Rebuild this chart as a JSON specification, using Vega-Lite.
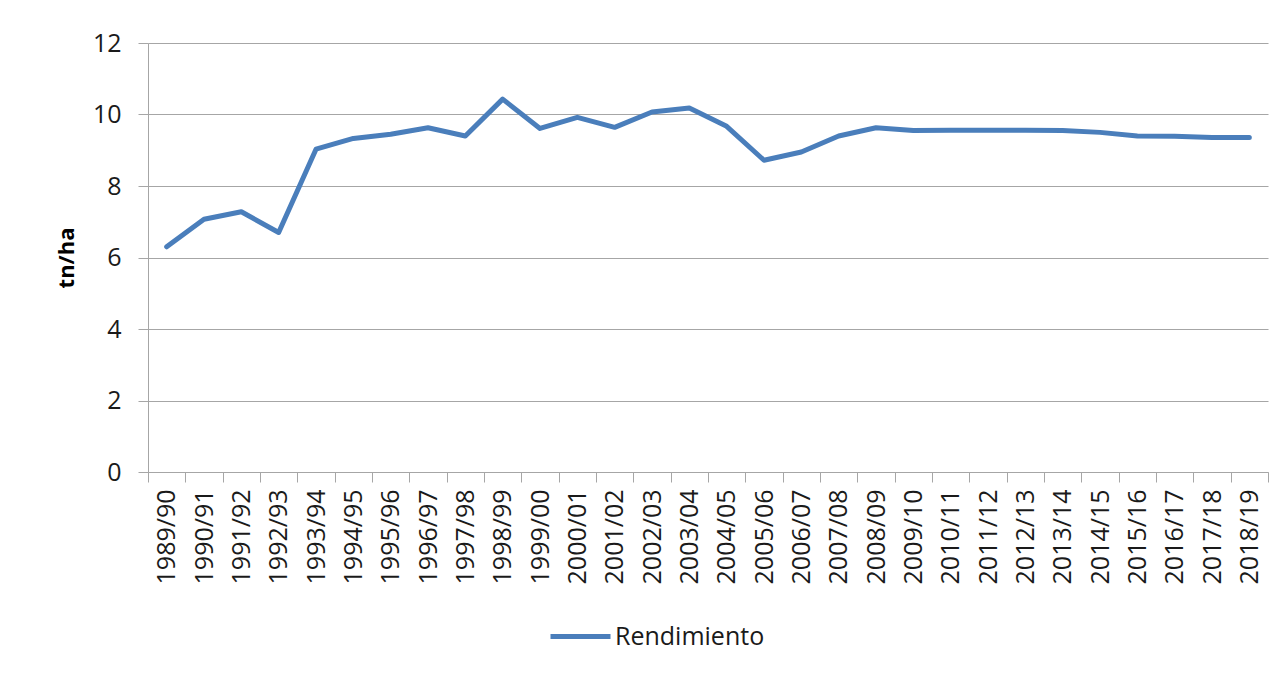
{
  "$schema": "https://vega.github.io/schema/vega-lite/v6.json",
  "autosize": "none",
  "width": 1120,
  "height": 429,
  "padding": {"left": 148, "top": 43, "right": 15, "bottom": 212},
  "background": "white",
  "config": {
    "view": {"stroke": null},
    "font": "Open Sans"
  },
  "data": {
    "values": [
      {"campana": "1989/90", "rendimiento": 6.30, "serie": "Rendimiento"},
      {"campana": "1990/91", "rendimiento": 7.07, "serie": "Rendimiento"},
      {"campana": "1991/92", "rendimiento": 7.28, "serie": "Rendimiento"},
      {"campana": "1992/93", "rendimiento": 6.70, "serie": "Rendimiento"},
      {"campana": "1993/94", "rendimiento": 9.03, "serie": "Rendimiento"},
      {"campana": "1994/95", "rendimiento": 9.33, "serie": "Rendimiento"},
      {"campana": "1995/96", "rendimiento": 9.45, "serie": "Rendimiento"},
      {"campana": "1996/97", "rendimiento": 9.63, "serie": "Rendimiento"},
      {"campana": "1997/98", "rendimiento": 9.40, "serie": "Rendimiento"},
      {"campana": "1998/99", "rendimiento": 10.43, "serie": "Rendimiento"},
      {"campana": "1999/00", "rendimiento": 9.61, "serie": "Rendimiento"},
      {"campana": "2000/01", "rendimiento": 9.92, "serie": "Rendimiento"},
      {"campana": "2001/02", "rendimiento": 9.64, "serie": "Rendimiento"},
      {"campana": "2002/03", "rendimiento": 10.07, "serie": "Rendimiento"},
      {"campana": "2003/04", "rendimiento": 10.18, "serie": "Rendimiento"},
      {"campana": "2004/05", "rendimiento": 9.67, "serie": "Rendimiento"},
      {"campana": "2005/06", "rendimiento": 8.72, "serie": "Rendimiento"},
      {"campana": "2006/07", "rendimiento": 8.95, "serie": "Rendimiento"},
      {"campana": "2007/08", "rendimiento": 9.40, "serie": "Rendimiento"},
      {"campana": "2008/09", "rendimiento": 9.63, "serie": "Rendimiento"},
      {"campana": "2009/10", "rendimiento": 9.55, "serie": "Rendimiento"},
      {"campana": "2010/11", "rendimiento": 9.56, "serie": "Rendimiento"},
      {"campana": "2011/12", "rendimiento": 9.56, "serie": "Rendimiento"},
      {"campana": "2012/13", "rendimiento": 9.56, "serie": "Rendimiento"},
      {"campana": "2013/14", "rendimiento": 9.55, "serie": "Rendimiento"},
      {"campana": "2014/15", "rendimiento": 9.50, "serie": "Rendimiento"},
      {"campana": "2015/16", "rendimiento": 9.40, "serie": "Rendimiento"},
      {"campana": "2016/17", "rendimiento": 9.39, "serie": "Rendimiento"},
      {"campana": "2017/18", "rendimiento": 9.36, "serie": "Rendimiento"},
      {"campana": "2018/19", "rendimiento": 9.36, "serie": "Rendimiento"}
    ]
  },
  "mark": {"type": "line", "strokeWidth": 5, "strokeCap": "round", "strokeJoin": "round"},
  "encoding": {
    "x": {
      "field": "campana",
      "type": "ordinal",
      "sort": null,
      "bandPosition": 0.5,
      "scale": {"type": "band", "paddingInner": 0, "paddingOuter": 0},
      "axis": {
        "title": null,
        "tickBand": "extent",
        "labelAngle": 270,
        "labelFontSize": 25,
        "labelColor": "#1a1a1a",
        "labelFont": "Open Sans",
        "labelPadding": 7,
        "tickSize": 10,
        "tickColor": "#a6a6a6",
        "domainColor": "#a6a6a6",
        "grid": false
      }
    },
    "y": {
      "field": "rendimiento",
      "type": "quantitative",
      "scale": {"domain": [0, 12], "nice": false},
      "axis": {
        "title": "tn/ha",
        "titleFont": "Open Sans",
        "titleFontSize": 22,
        "titleFontWeight": "bold",
        "titleColor": "#000000",
        "titlePadding": 14,
        "values": [0, 2, 4, 6, 8, 10, 12],
        "labelFontSize": 25,
        "labelColor": "#1a1a1a",
        "labelFont": "Open Sans",
        "labelPadding": 17,
        "tickSize": 10,
        "tickColor": "#a6a6a6",
        "domainColor": "#a6a6a6",
        "gridColor": "#a6a6a6",
        "gridWidth": 1.2
      }
    },
    "color": {
      "field": "serie",
      "type": "nominal",
      "scale": {"range": ["#4A7EBB"]},
      "legend": {
        "title": null,
        "orient": "none",
        "legendX": 400,
        "legendY": 561,
        "symbolType": "stroke",
        "symbolSize": 3600,
        "symbolStrokeWidth": 5,
        "labelFontSize": 25,
        "labelFont": "Open Sans",
        "labelColor": "#1a1a1a",
        "labelOffset": 2
      }
    }
  }
}
